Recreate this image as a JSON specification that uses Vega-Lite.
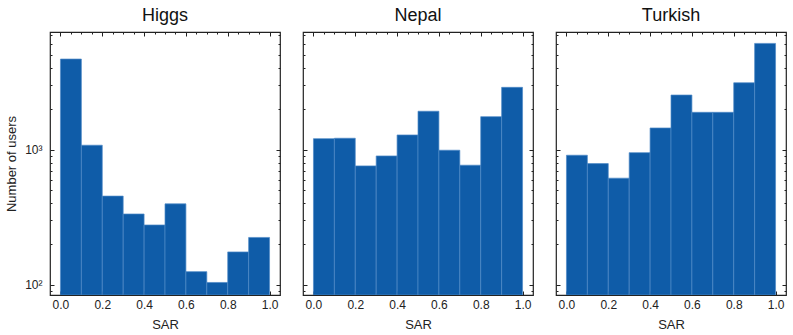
{
  "$schema": "https://vega.github.io/schema/vega-lite/v6.json",
  "background": "white",
  "padding": {"left": 5, "top": 5, "right": 5, "bottom": 5},
  "config": {
    "font": "Liberation Sans",
    "view": {"stroke": "#222222", "strokeWidth": 1.2},
    "axis": {"domain": false, "grid": false, "tickColor": "#222222", "tickWidth": 1, "labelFont": "Liberation Sans", "labelFontSize": 12, "labelColor": "#222222", "titleFont": "Liberation Sans", "titleFontSize": 13, "titleFontWeight": "normal", "titleColor": "#222222"},
    "title": {"font": "Liberation Sans", "fontSize": 18, "fontWeight": "normal", "color": "#111111", "offset": 7},
    "concat": {"spacing": 19}
  },
  "data": {"values": [
    {"dataset": "Higgs", "bin_start": 0.0, "bin_end": 0.1, "count": 4680},
    {"dataset": "Higgs", "bin_start": 0.1, "bin_end": 0.2, "count": 1078},
    {"dataset": "Higgs", "bin_start": 0.2, "bin_end": 0.3, "count": 453},
    {"dataset": "Higgs", "bin_start": 0.3, "bin_end": 0.4, "count": 334},
    {"dataset": "Higgs", "bin_start": 0.4, "bin_end": 0.5, "count": 277},
    {"dataset": "Higgs", "bin_start": 0.5, "bin_end": 0.6, "count": 397},
    {"dataset": "Higgs", "bin_start": 0.6, "bin_end": 0.7, "count": 125},
    {"dataset": "Higgs", "bin_start": 0.7, "bin_end": 0.8, "count": 104},
    {"dataset": "Higgs", "bin_start": 0.8, "bin_end": 0.9, "count": 175},
    {"dataset": "Higgs", "bin_start": 0.9, "bin_end": 1.0, "count": 224},
    {"dataset": "Nepal", "bin_start": 0.0, "bin_end": 0.1, "count": 1206},
    {"dataset": "Nepal", "bin_start": 0.1, "bin_end": 0.2, "count": 1214},
    {"dataset": "Nepal", "bin_start": 0.2, "bin_end": 0.3, "count": 758},
    {"dataset": "Nepal", "bin_start": 0.3, "bin_end": 0.4, "count": 898},
    {"dataset": "Nepal", "bin_start": 0.4, "bin_end": 0.5, "count": 1284},
    {"dataset": "Nepal", "bin_start": 0.5, "bin_end": 0.6, "count": 1923},
    {"dataset": "Nepal", "bin_start": 0.6, "bin_end": 0.7, "count": 990},
    {"dataset": "Nepal", "bin_start": 0.7, "bin_end": 0.8, "count": 767},
    {"dataset": "Nepal", "bin_start": 0.8, "bin_end": 0.9, "count": 1754},
    {"dataset": "Nepal", "bin_start": 0.9, "bin_end": 1.0, "count": 2890},
    {"dataset": "Turkish", "bin_start": 0.0, "bin_end": 0.1, "count": 909},
    {"dataset": "Turkish", "bin_start": 0.1, "bin_end": 0.2, "count": 788},
    {"dataset": "Turkish", "bin_start": 0.2, "bin_end": 0.3, "count": 615},
    {"dataset": "Turkish", "bin_start": 0.3, "bin_end": 0.4, "count": 950},
    {"dataset": "Turkish", "bin_start": 0.4, "bin_end": 0.5, "count": 1446},
    {"dataset": "Turkish", "bin_start": 0.5, "bin_end": 0.6, "count": 2535},
    {"dataset": "Turkish", "bin_start": 0.6, "bin_end": 0.7, "count": 1889},
    {"dataset": "Turkish", "bin_start": 0.7, "bin_end": 0.8, "count": 1889},
    {"dataset": "Turkish", "bin_start": 0.8, "bin_end": 0.9, "count": 3125},
    {"dataset": "Turkish", "bin_start": 0.9, "bin_end": 1.0, "count": 6110}
  ]},
  "hconcat": [
    {
      "title": "Higgs",
      "width": 230, "height": 263,
      "transform": [{"filter": "datum.dataset === 'Higgs'"}],
      "resolve": {"axis": {"x": "independent", "y": "independent"}},
      "layer": [
        {"mark": {"type": "bar", "fill": "#0f5ca8", "stroke": "#4f89c7", "strokeWidth": 0.7, "clip": true},
         "encoding": {
           "x": {"field": "bin_start", "type": "quantitative", "scale": {"domain": [-0.05, 1.05], "nice": false, "zero": false}, "axis": {"orient": "bottom", "values": [0, 0.2, 0.4, 0.6, 0.8, 1], "format": ".1f", "tickSize": -4, "labelPadding": 8, "title": "SAR", "titlePadding": 8}},
           "x2": {"field": "bin_end"},
           "y": {"field": "count", "type": "quantitative", "scale": {"type": "log", "domain": [84, 7420], "nice": false}, "axis": {"orient": "left", "values": [100, 1000], "tickSize": -4, "labelPadding": 12, "labelExpr": "datum.value == 1000 ? '10³' : '10²'", "title": "Number of users", "titlePadding": 6}},
           "y2": {"datum": 84}
         }},
        {"mark": {"type": "point", "opacity": 0},
         "encoding": {
           "x": {"field": "bin_start", "type": "quantitative", "scale": {"domain": [-0.05, 1.05], "nice": false, "zero": false}, "axis": {"orient": "top", "values": [0, 0.2, 0.4, 0.6, 0.8, 1], "labels": false, "tickSize": -4, "title": null}},
           "y": {"field": "count", "type": "quantitative", "scale": {"type": "log", "domain": [84, 7420], "nice": false}, "axis": {"orient": "right", "values": [100, 1000], "labels": false, "tickSize": -4, "title": null}}
         }},
        {"mark": {"type": "point", "opacity": 0},
         "encoding": {
           "x": {"field": "bin_start", "type": "quantitative", "scale": {"domain": [-0.05, 1.05], "nice": false, "zero": false}, "axis": {"orient": "bottom", "values": [0.05, 0.1, 0.15, 0.25, 0.3, 0.35, 0.45, 0.5, 0.55, 0.65, 0.7, 0.75, 0.85, 0.9, 0.95], "labels": false, "tickSize": -2, "title": null}},
           "y": {"field": "count", "type": "quantitative", "scale": {"type": "log", "domain": [84, 7420], "nice": false}, "axis": {"orient": "left", "values": [90, 200, 300, 400, 500, 600, 700, 800, 900, 2000, 3000, 4000, 5000, 6000, 7000], "labels": false, "tickSize": -2, "title": null}}
         }},
        {"mark": {"type": "point", "opacity": 0},
         "encoding": {
           "x": {"field": "bin_start", "type": "quantitative", "scale": {"domain": [-0.05, 1.05], "nice": false, "zero": false}, "axis": {"orient": "top", "values": [0.05, 0.1, 0.15, 0.25, 0.3, 0.35, 0.45, 0.5, 0.55, 0.65, 0.7, 0.75, 0.85, 0.9, 0.95], "labels": false, "tickSize": -2, "title": null}},
           "y": {"field": "count", "type": "quantitative", "scale": {"type": "log", "domain": [84, 7420], "nice": false}, "axis": {"orient": "right", "values": [90, 200, 300, 400, 500, 600, 700, 800, 900, 2000, 3000, 4000, 5000, 6000, 7000], "labels": false, "tickSize": -2, "title": null}}
         }}
      ]
    },
    {
      "title": "Nepal",
      "width": 230, "height": 263,
      "transform": [{"filter": "datum.dataset === 'Nepal'"}],
      "resolve": {"axis": {"x": "independent", "y": "independent"}},
      "layer": [
        {"mark": {"type": "bar", "fill": "#0f5ca8", "stroke": "#4f89c7", "strokeWidth": 0.7, "clip": true},
         "encoding": {
           "x": {"field": "bin_start", "type": "quantitative", "scale": {"domain": [-0.05, 1.05], "nice": false, "zero": false}, "axis": {"orient": "bottom", "values": [0, 0.2, 0.4, 0.6, 0.8, 1], "format": ".1f", "tickSize": -4, "labelPadding": 8, "title": "SAR", "titlePadding": 8}},
           "x2": {"field": "bin_end"},
           "y": {"field": "count", "type": "quantitative", "scale": {"type": "log", "domain": [84, 7420], "nice": false}, "axis": {"orient": "left", "values": [100, 1000], "labels": false, "tickSize": -4, "title": null}},
           "y2": {"datum": 84}
         }},
        {"mark": {"type": "point", "opacity": 0},
         "encoding": {
           "x": {"field": "bin_start", "type": "quantitative", "scale": {"domain": [-0.05, 1.05], "nice": false, "zero": false}, "axis": {"orient": "top", "values": [0, 0.2, 0.4, 0.6, 0.8, 1], "labels": false, "tickSize": -4, "title": null}},
           "y": {"field": "count", "type": "quantitative", "scale": {"type": "log", "domain": [84, 7420], "nice": false}, "axis": {"orient": "right", "values": [100, 1000], "labels": false, "tickSize": -4, "title": null}}
         }},
        {"mark": {"type": "point", "opacity": 0},
         "encoding": {
           "x": {"field": "bin_start", "type": "quantitative", "scale": {"domain": [-0.05, 1.05], "nice": false, "zero": false}, "axis": {"orient": "bottom", "values": [0.05, 0.1, 0.15, 0.25, 0.3, 0.35, 0.45, 0.5, 0.55, 0.65, 0.7, 0.75, 0.85, 0.9, 0.95], "labels": false, "tickSize": -2, "title": null}},
           "y": {"field": "count", "type": "quantitative", "scale": {"type": "log", "domain": [84, 7420], "nice": false}, "axis": {"orient": "left", "values": [90, 200, 300, 400, 500, 600, 700, 800, 900, 2000, 3000, 4000, 5000, 6000, 7000], "labels": false, "tickSize": -2, "title": null}}
         }},
        {"mark": {"type": "point", "opacity": 0},
         "encoding": {
           "x": {"field": "bin_start", "type": "quantitative", "scale": {"domain": [-0.05, 1.05], "nice": false, "zero": false}, "axis": {"orient": "top", "values": [0.05, 0.1, 0.15, 0.25, 0.3, 0.35, 0.45, 0.5, 0.55, 0.65, 0.7, 0.75, 0.85, 0.9, 0.95], "labels": false, "tickSize": -2, "title": null}},
           "y": {"field": "count", "type": "quantitative", "scale": {"type": "log", "domain": [84, 7420], "nice": false}, "axis": {"orient": "right", "values": [90, 200, 300, 400, 500, 600, 700, 800, 900, 2000, 3000, 4000, 5000, 6000, 7000], "labels": false, "tickSize": -2, "title": null}}
         }}
      ]
    },
    {
      "title": "Turkish",
      "width": 230, "height": 263,
      "transform": [{"filter": "datum.dataset === 'Turkish'"}],
      "resolve": {"axis": {"x": "independent", "y": "independent"}},
      "layer": [
        {"mark": {"type": "bar", "fill": "#0f5ca8", "stroke": "#4f89c7", "strokeWidth": 0.7, "clip": true},
         "encoding": {
           "x": {"field": "bin_start", "type": "quantitative", "scale": {"domain": [-0.05, 1.05], "nice": false, "zero": false}, "axis": {"orient": "bottom", "values": [0, 0.2, 0.4, 0.6, 0.8, 1], "format": ".1f", "tickSize": -4, "labelPadding": 8, "title": "SAR", "titlePadding": 8}},
           "x2": {"field": "bin_end"},
           "y": {"field": "count", "type": "quantitative", "scale": {"type": "log", "domain": [84, 7420], "nice": false}, "axis": {"orient": "left", "values": [100, 1000], "labels": false, "tickSize": -4, "title": null}},
           "y2": {"datum": 84}
         }},
        {"mark": {"type": "point", "opacity": 0},
         "encoding": {
           "x": {"field": "bin_start", "type": "quantitative", "scale": {"domain": [-0.05, 1.05], "nice": false, "zero": false}, "axis": {"orient": "top", "values": [0, 0.2, 0.4, 0.6, 0.8, 1], "labels": false, "tickSize": -4, "title": null}},
           "y": {"field": "count", "type": "quantitative", "scale": {"type": "log", "domain": [84, 7420], "nice": false}, "axis": {"orient": "right", "values": [100, 1000], "labels": false, "tickSize": -4, "title": null}}
         }},
        {"mark": {"type": "point", "opacity": 0},
         "encoding": {
           "x": {"field": "bin_start", "type": "quantitative", "scale": {"domain": [-0.05, 1.05], "nice": false, "zero": false}, "axis": {"orient": "bottom", "values": [0.05, 0.1, 0.15, 0.25, 0.3, 0.35, 0.45, 0.5, 0.55, 0.65, 0.7, 0.75, 0.85, 0.9, 0.95], "labels": false, "tickSize": -2, "title": null}},
           "y": {"field": "count", "type": "quantitative", "scale": {"type": "log", "domain": [84, 7420], "nice": false}, "axis": {"orient": "left", "values": [90, 200, 300, 400, 500, 600, 700, 800, 900, 2000, 3000, 4000, 5000, 6000, 7000], "labels": false, "tickSize": -2, "title": null}}
         }},
        {"mark": {"type": "point", "opacity": 0},
         "encoding": {
           "x": {"field": "bin_start", "type": "quantitative", "scale": {"domain": [-0.05, 1.05], "nice": false, "zero": false}, "axis": {"orient": "top", "values": [0.05, 0.1, 0.15, 0.25, 0.3, 0.35, 0.45, 0.5, 0.55, 0.65, 0.7, 0.75, 0.85, 0.9, 0.95], "labels": false, "tickSize": -2, "title": null}},
           "y": {"field": "count", "type": "quantitative", "scale": {"type": "log", "domain": [84, 7420], "nice": false}, "axis": {"orient": "right", "values": [90, 200, 300, 400, 500, 600, 700, 800, 900, 2000, 3000, 4000, 5000, 6000, 7000], "labels": false, "tickSize": -2, "title": null}}
         }}
      ]
    }
  ]
}
